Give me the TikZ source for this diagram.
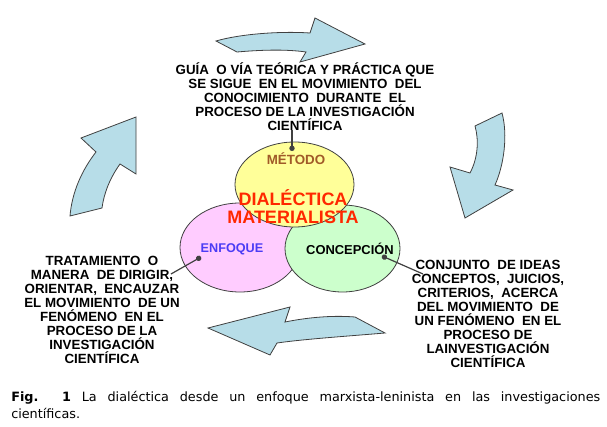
\documentclass[tikz,border=0pt]{standalone}
\usepackage{fontspec}
\setmainfont{Liberation Sans}
\newfontfamily\captionfont{DejaVu Sans}
\usetikzlibrary{arrows.meta,shapes.geometric}
\newcommand{\pxu}{0.75pt}
\definecolor{turnBlue}{RGB}{183,221,232}
\definecolor{edgeGrey}{RGB}{64,64,64}
\definecolor{metYellow}{RGB}{255,255,153}
\definecolor{enfPink}{RGB}{255,204,255}
\definecolor{conGreen}{RGB}{204,255,204}
\definecolor{metBrown}{RGB}{160,90,40}
\definecolor{enfBlue}{RGB}{75,60,245}
\definecolor{dialRed}{RGB}{255,40,0}
\tikzset{
  bubble/.style={draw=edgeGrey,shape=ellipse,line width=0.6pt,inner sep=0},
  note/.style={align=center,inner sep=0,font=\fontsize{10}{10.5}\selectfont\bfseries},
  tag/.style={inner sep=0,font=\fontsize{10}{12}\selectfont\bfseries},
  turn/.style={draw=edgeGrey,fill=turnBlue,line width=0.6pt,line join=miter},
  lead/.style={draw=edgeGrey,line width=0.9pt,-{Circle[length=4pt]}},
}

\begin{document}
\begin{tikzpicture}[x=\pxu,y=-\pxu]
  \useasboundingbox (0,0) rectangle (607,427);
  % cycle arrows
  \path [turn] (216,41) .. controls (240,34) and (280,31) .. (310,33) -- (315,18) -- (365,44)
    -- (300,62) -- (306,52) .. controls (285,49) and (260,50) .. (237,52) -- cycle;
  \path [turn] (475,126) -- (502,113) .. controls (508,135) and (504,165) .. (495,185)
    -- (513,190) -- (465,218) -- (450,167) -- (470,173) .. controls (478,158) and (479,140) .. (475,126) -- cycle;
  \path [turn] (355,317) .. controls (330,315) and (305,318) .. (285,322) -- (290,307) -- (208,328)
    -- (270,355) -- (277,343) .. controls (305,339) and (350,336) .. (385,333) -- cycle;
  \path [turn] (70,216) .. controls (72,192) and (82,170) .. (96,152) -- (81,138) -- (136,117)
    -- (136,174) -- (120,164) .. controls (110,178) and (104,193) .. (102,208) -- cycle;
  % circles
  \node (enfoque) [bubble,fill=enfPink,minimum width={120*\pxu},minimum height={89*\pxu}] at (240,247.5) {};
  \node (concepcion) [bubble,fill=conGreen,minimum width={115*\pxu},minimum height={87*\pxu}] at (342.5,248.5) {};
  \node (metodo) [bubble,fill=metYellow,minimum width={119*\pxu},minimum height={85*\pxu}] at (294.5,184.5) {};
  \node (metodoTag) [tag,text=metBrown] at (296,159) {MÉTODO};
  \node (enfoqueTag) [tag,text=enfBlue,font=\fontsize{9.5}{12}\selectfont\bfseries] at (232,249) {ENFOQUE};
  \node (concepcionTag) [tag,font=\fontsize{9.7}{12}\selectfont\bfseries] at (350,249) {CONCEPCIÓN};
  \node (dial) [tag,text=dialRed,align=center,font=\fontsize{13.5}{13.5}\selectfont\bfseries] at (293,207)
    {DIALÉCTICA\\MATERIALISTA};
  % notes
  \node (guia) [note] at (305,97) {GUÍA\ \ O VÍA TEÓRICA Y PRÁCTICA QUE\\SE SIGUE\ \ EN EL MOVIMIENTO\ \ DEL\\
    CONOCIMIENTO\ \ DURANTE\ \ EL\\PROCESO DE LA INVESTIGACIÓN\\CIENTÍFICA};
  \node (trato) [note] at (102,309.5) {TRATAMIENTO\ \ O\\MANERA\ \ DE DIRIGIR,\\ORIENTAR,\ \ ENCAUZAR\\
    EL MOVIMIENTO\ \ DE UN\\FENÓMENO\ \ EN EL\\PROCESO DE LA\\INVESTIGACIÓN\\CIENTÍFICA};
  \node (conjunto) [note] at (488,314) {CONJUNTO\ \ DE IDEAS\\CONCEPTOS,\ \ JUICIOS,\\CRITERIOS,\ \ ACERCA\\
    DEL MOVIMIENTO\ \ DE\\UN FENÓMENO\ \ EN EL\\PROCESO DE\\LAINVESTIGACIÓN\\CIENTÍFICA};
  % leads
  \coordinate (guiaEnd) at (292,130);
  \coordinate (metodoDot) at (292,151);
  \coordinate (tratoEnd) at (171,274);
  \coordinate (enfoqueDot) at (201,257);
  \coordinate (conjuntoEnd) at (423,274);
  \coordinate (concepcionDot) at (382,256);
  \path [lead] (guiaEnd) -- (metodoDot);
  \path [lead] (tratoEnd) -- (enfoqueDot);
  \path [lead] (conjuntoEnd) -- (concepcionDot);
  % caption
  \node (caption) [anchor=base west,inner sep=0,text width={589*\pxu},align=justify,
    font=\captionfont\fontsize{9.6}{12.75}\selectfont] at (11,402)
    {\textbf{Fig.\ \ 1} La dialéctica desde un enfoque marxista-leninista en las investigaciones\linebreak científicas.};
\end{tikzpicture}
\end{document}
